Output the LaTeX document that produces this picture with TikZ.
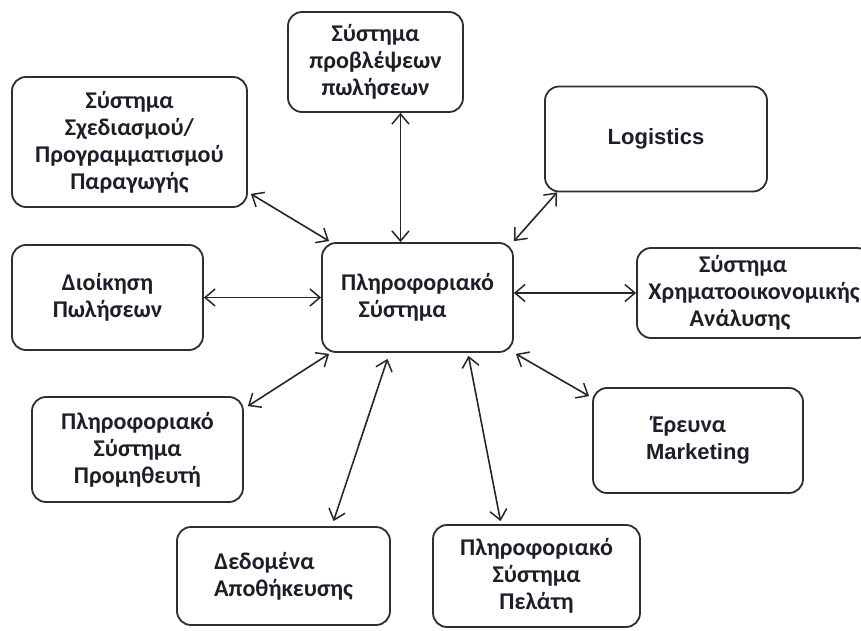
\documentclass[tikz,border=0pt]{standalone}
\usepackage{fontspec}
\usetikzlibrary{arrows.meta}
\newfontfamily\grfont{Carlito}
\newfontfamily\latfont{Liberation Sans}
\definecolor{boxc}{HTML}{2E2E2E}
\definecolor{linec}{HTML}{262626}
\definecolor{txt}{HTML}{1E1E2A}
\tikzset{
  box/.style={draw=boxc, line width=1.8pt, rounded corners=14pt, align=center,
    inner sep=0pt, text=txt, font=\grfont\bfseries\fontsize{24}{27}\selectfont},
  latin/.style={font=\latfont\bfseries\fontsize{22}{29}\selectfont},
  barb/.tip={Straight Barb[length=10pt,width=17pt,line width=1.5pt]},
  link/.style={draw=linec, line width=1.6pt, barb-barb}
}
\begin{document}
\begin{tikzpicture}[x=1pt,y=-1pt]
\useasboundingbox (0,0) rectangle (861,631);
\clip (0,0) rectangle (861,631);
% boxes: centre, width, height (pixel units)
\node[box, minimum width=175pt, minimum height=100pt] (fore) at (375.5,62) {Σύστημα\\προβλέψεων\\πωλήσεων};
\node[box, minimum width=235pt, minimum height=130pt] (plan) at (129.5,142) {Σύστημα\\Σχεδιασμού/\\Προγραμματισμού\\Παραγωγής};
\node[box, latin, minimum width=222pt, minimum height=105pt] (logi) at (656,139) {Logistics};
\node[box, minimum width=191pt, minimum height=105pt] (sales) at (107.5,297.5) {Διοίκηση\\Πωλήσεων};
\node[box, minimum width=191pt, minimum height=109pt] (is) at (417.5,297.5) {Πληροφοριακό\\Σύστημα\hspace*{30pt}};
\node[box, minimum width=234pt, minimum height=90pt] (fin) at (754,293) {Σύστημα\hspace*{22pt}\\Χρηματοοικονομικής\hspace*{8pt}\\Ανάλυσης\hspace*{28pt}};
\node[box, minimum width=211pt, minimum height=105pt] (sup) at (137.5,449.5) {Πληροφοριακό\\Σύστημα\hspace*{30pt}\\Προμηθευτή};
\node[box, minimum width=210pt, minimum height=105pt] (mkt) at (698,440.5) {{\grfont Έρευνα}\hspace*{18pt}\\{\latfont\fontsize{22}{29}\selectfont Marketing}};
\node[box, minimum width=213pt, minimum height=98pt] (data) at (283.5,576) {Δεδομένα\hspace*{38pt}\\Αποθήκευσης};
\node[box, minimum width=207pt, minimum height=102pt] (cust) at (536.5,576) {Πληροφοριακό\\Σύστημα\\Πελάτη};
% connectors
\draw[link] ([xshift=-17pt]is.north |- fore.south) -- ([xshift=-17pt]is.north);
\draw[link] ([shift={(3,-14)}]plan.south east) -- ([shift={(8,-1)}]is.north west);
\draw[link] ([shift={(13,0)}]logi.south west) -- ([shift={(0,-1)}]is.north east);
\draw[link] (sales.east) -- (is.west);
\draw[link] (is.east |- fin.west) -- (fin.west);
\draw[link] ([shift={(8,1)}]is.south west) -- ([shift={(4,10)}]sup.north east);
\draw[link] ([shift={(-30,6)}]is.south) -- ([shift={(50,-5)}]data.north);
\draw[link] ([shift={(51,3)}]is.south) -- ([shift={(-36,-3)}]cust.north);
\draw[link] ([shift={(2,1)}]is.south east) -- ([shift={(-3,9)}]mkt.north west);
\end{tikzpicture}
\end{document}
